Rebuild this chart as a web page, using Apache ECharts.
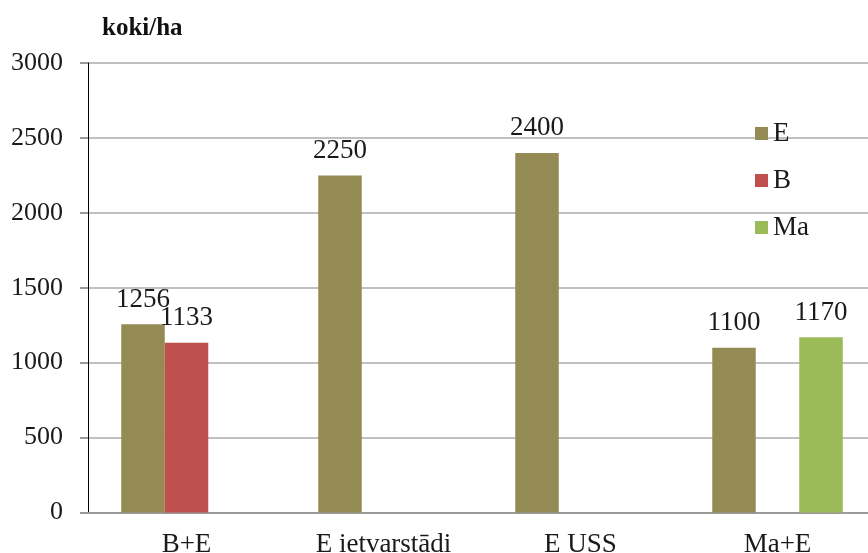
<!DOCTYPE html>
<html>
<head>
<meta charset="utf-8">
<script src="https://cdn.jsdelivr.net/npm/echarts@6/dist/echarts.min.js"></script>
<style>html,body{margin:0;padding:0;background:#fff}#c{width:868px;height:553px}</style>
</head>
<body>
<div id="c"></div>
<script>
const categories = ['B+E', 'E ietvarstādi', 'E USS', 'Ma+E'];
const seriesE = [1256, 2250, 2400, 1100];
const seriesB = [1133, null, null, null];
const seriesMa = [null, null, null, 1170];
const seriesNames = ['E', 'B', 'Ma'];
const yTicks = [0, 500, 1000, 1500, 2000, 2500, 3000];

const FONT = '"Liberation Serif", "Times New Roman", serif';
const colors = ['#948A54', '#C0504D', '#9BBB59'];
const chart = echarts.init(document.getElementById('c'), null, {renderer: 'canvas'});
const lbl = {show: true, position: 'top', distance: 11, fontFamily: FONT, fontSize: 27, color: '#1a1a1a'};
chart.setOption({
  animation: false,
  color: colors,
  title: {text: 'koki/ha', left: 97, top: 11, textStyle: {fontFamily: FONT, fontSize: 25, fontWeight: 'bold', color: '#111'}},
  legend: {
    data: seriesNames, orient: 'vertical', left: 755, top: 120, padding: 0, itemWidth: 13, itemHeight: 13, itemGap: 20,
    icon: 'rect', textStyle: {fontFamily: FONT, fontSize: 27, color: '#1a1a1a'}
  },
  grid: {left: 88, top: 63, right: -8, height: 449.5, containLabel: false, outerBoundsMode: 'none'},
  xAxis: {
    type: 'category', data: categories,
    axisLine: {lineStyle: {color: '#9a9a9a', width: 2}},
    axisTick: {show: false},
    axisLabel: {fontFamily: FONT, fontSize: 27, color: '#1a1a1a', margin: 19}
  },
  yAxis: {
    type: 'value', min: yTicks[0], max: yTicks[yTicks.length - 1], interval: 500,
    axisLine: {show: true, lineStyle: {color: '#000', width: 1}},
    axisTick: {show: true, length: 8, lineStyle: {color: '#9a9a9a', width: 2}},
    axisLabel: {fontFamily: FONT, fontSize: 26, color: '#1a1a1a', margin: 25, formatter: v => String(v)},
    splitLine: {lineStyle: {color: '#c0c0c0', width: 2}}
  },
  series: [
    {name: 'E', type: 'bar', data: seriesE, barWidth: 43.5, barGap: '0%', barCategoryGap: '33.8%', label: lbl},
    {name: 'B', type: 'bar', data: seriesB, barWidth: 43.5, barGap: '0%', label: lbl},
    {name: 'Ma', type: 'bar', data: seriesMa, barWidth: 43.5, barGap: '0%', label: lbl}
  ]
});
</script>
</body>
</html>
